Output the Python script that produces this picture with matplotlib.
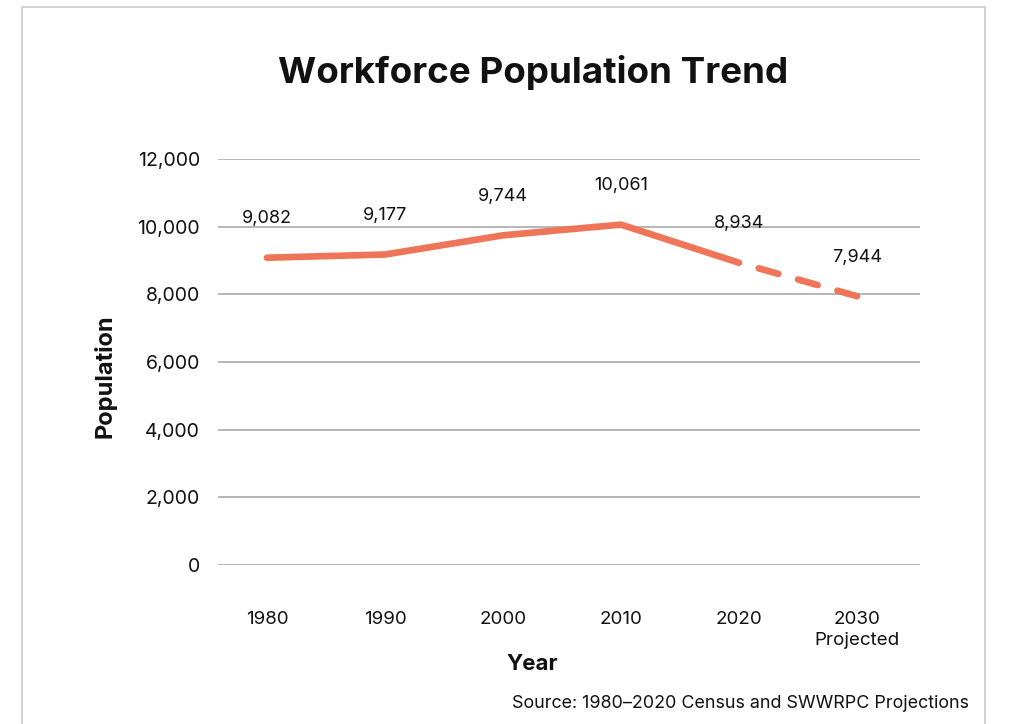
import matplotlib
matplotlib.use("Agg")
import matplotlib.pyplot as plt
from matplotlib.patches import Rectangle

plt.rcParams["font.family"] = ["Inter", "DejaVu Sans"]

# Workforce population by decade (2030 is a projection)
years = ["1980", "1990", "2000", "2010", "2020", "2030"]
tick_labels = ["1980", "1990", "2000", "2010", "2020", "2030\nProjected"]
population = [9082, 9177, 9744, 10061, 8934, 7944]
value_labels = ["9,082", "9,177", "9,744", "10,061", "8,934", "7,944"]
y_ticks = [0, 2000, 4000, 6000, 8000, 10000, 12000]
y_tick_labels = ["0", "2,000", "4,000", "6,000", "8,000", "10,000", "12,000"]

line_color = "#EF7558"
grid_color = "#a9a9a9"
text_color = "#111111"

fig = plt.figure(figsize=(10.27, 7.24), dpi=100)
fig.patch.set_facecolor("white")

# light outer frame (open at the bottom)
frame = Rectangle((22 / 1027, -0.05), (985 - 22) / 1027, 1.05 - 7 / 724,
                  transform=fig.transFigure, fill=False,
                  edgecolor="#c9c9c9", linewidth=1.2)
fig.patches.append(frame)

ax = fig.add_axes([218 / 1027, 1 - 565 / 724, (920 - 218) / 1027, (565 - 159) / 724])

x = list(range(len(years)))
# historical census values: solid
ax.plot(x[:5], population[:5], color=line_color, linewidth=4.8,
        solid_capstyle="round", solid_joinstyle="round", zorder=3)
# projection: dashed, starting with a gap after the solid part
ax.plot(x[4:], population[4:], color=line_color, linewidth=4.8,
        linestyle=(3.07, (3.07, 3.07)), dash_capstyle="round", zorder=3)

for xi, yi, lab in zip(x, population, value_labels):
    ax.annotate(lab, (xi, yi), xytext=(0, 22), textcoords="offset points",
                ha="center", va="bottom", fontsize=13, color=text_color)

ax.set_xlim(-0.415, 5.534)
ax.set_ylim(0, 12000)
ax.set_yticks(y_ticks)
ax.set_yticklabels(y_tick_labels, fontsize=14, color=text_color)
ax.set_xticks(x)
ax.set_xticklabels(tick_labels, fontsize=13.5, color=text_color, linespacing=1.3)
ax.tick_params(axis="y", length=0, pad=13)
ax.tick_params(axis="x", length=0, pad=33)
ax.yaxis.grid(True, color=grid_color, linewidth=1.2)
ax.set_axisbelow(True)
for s in ax.spines.values():
    s.set_visible(False)

ax.set_ylabel("Population", fontsize=17, fontweight="bold", color=text_color)
ax.yaxis.set_label_coords(-0.144, 0.466)
ax.set_xlabel("Year", fontsize=16, fontweight="bold", color=text_color)
ax.xaxis.set_label_coords(0.447, -0.219)

fig.text(533 / 1027, 1 - 73 / 724, "Workforce Population Trend", ha="center", va="center",
         fontsize=26.5, fontweight="bold", color=text_color)
fig.text(969 / 1027, 1 - 703 / 724, "Source: 1980\u20132020 Census and SWWRPC Projections",
         ha="right", va="center", fontsize=12.9, color=text_color)

fig.savefig("out.png", dpi=100, facecolor="white")
